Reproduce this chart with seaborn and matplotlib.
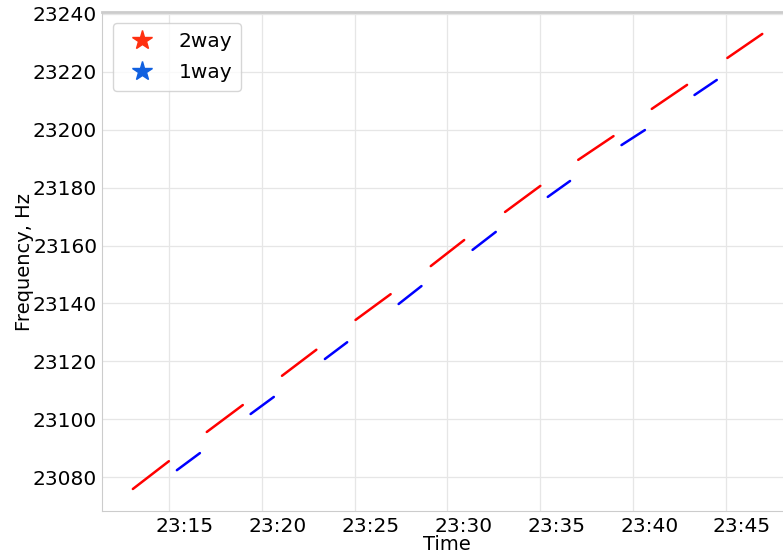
import pandas as pd
import numpy as np
import matplotlib
matplotlib.use("Agg")
import matplotlib.pyplot as plt
import matplotlib.dates as mdates
import matplotlib.transforms as mtransforms
from matplotlib.lines import Line2D
import seaborn as sns

# segment start / end (minutes after 23:00) and frequency (Hz)
red_t0 = [13.06, 17.04, 21.09, 25.05, 29.10, 33.10, 37.04, 41.00, 45.07]
red_t1 = [15.00, 18.98, 22.94, 26.94, 30.90, 35.00, 38.94, 42.90, 46.95]
red_f0 = [23075.9, 23095.6, 23115.0, 23134.3, 23152.9, 23171.6, 23189.6, 23207.2, 23224.8]
red_f1 = [23085.5, 23104.9, 23124.0, 23143.2, 23161.9, 23180.6, 23197.8, 23215.5, 23233.1]

blue_t0 = [15.43, 19.40, 23.40, 27.37, 31.35, 35.40, 39.37, 43.30]
blue_t1 = [16.67, 20.65, 24.60, 28.60, 32.60, 36.60, 40.63, 44.50]
blue_f0 = [23082.4, 23101.8, 23120.8, 23139.8, 23158.5, 23176.8, 23194.7, 23212.0]
blue_f1 = [23088.3, 23107.7, 23126.6, 23146.0, 23164.7, 23182.3, 23199.9, 23217.2]

base = pd.Timestamp("2020-01-01 23:00:00")

rows = []
def add(mode, t0, t1, f0, f1):
    for i in range(len(t0)):
        seg = f"{mode}{i}"
        rows.append((mode, seg, base + pd.Timedelta(minutes=t0[i]), f0[i]))
        rows.append((mode, seg, base + pd.Timedelta(minutes=t1[i]), f1[i]))

add("2way", red_t0, red_t1, red_f0, red_f1)
add("1way", blue_t0, blue_t1, blue_f0, blue_f1)
df = pd.DataFrame(rows, columns=["mode", "seg", "time", "freq"])

sns.set_style("whitegrid")
plt.rcParams["font.family"] = ["DejaVu Sans"]
plt.rcParams.update({"text.color": "black", "axes.labelcolor": "black",
                     "xtick.color": "black", "ytick.color": "black"})

fig = plt.figure(figsize=(7.83, 5.55), dpi=100)
ax = fig.add_axes([0.1303, 0.0793, 0.88, 0.899])

sns.lineplot(data=df, x="time", y="freq", hue="mode", units="seg",
             estimator=None, palette={"2way": "red", "1way": "blue"},
             linewidth=1.8, legend=False, ax=ax)

ax.set_xlim(base + pd.Timedelta(minutes=11.4), base + pd.Timedelta(minutes=48.5))
ax.set_ylim(23068.3, 23240.66)
ax.set_yticks(np.arange(23080, 23241, 20))
ax.xaxis.set_major_locator(mdates.MinuteLocator(byminute=range(0, 60, 5)))
ax.xaxis.set_major_formatter(mdates.DateFormatter("%H:%M"))
ax.tick_params(axis="x", labelsize=14.5, pad=0.5)
ax.tick_params(axis="y", labelsize=14.5, pad=0)
# x tick labels sit a little right of their gridlines in the original
shift = mtransforms.ScaledTranslation(16 / 100, 0, fig.dpi_scale_trans)
for lbl in ax.get_xticklabels():
    lbl.set_transform(lbl.get_transform() + shift)
ax.set_xlabel("Time", fontsize=14, labelpad=-0.5)
ax.set_ylabel("Frequency, Hz", fontsize=14, labelpad=-1)
ax.grid(color="#e6e6e6", linewidth=0.9)
for s in ax.spines.values():
    s.set_color("#cccccc")
ax.spines["top"].set_linewidth(2)

handles = [Line2D([], [], marker="*", linestyle="none", color="#ff3010", markersize=15),
           Line2D([], [], marker="*", linestyle="none", color="#1060e0", markersize=15)]
ax.legend(handles, ["2way", "1way"], loc="upper left", fontsize=14.5,
          handletextpad=0.8, borderpad=0.45, labelspacing=0.6, framealpha=0.8,
          borderaxespad=0.55)

fig.savefig("out.png", dpi=100)
